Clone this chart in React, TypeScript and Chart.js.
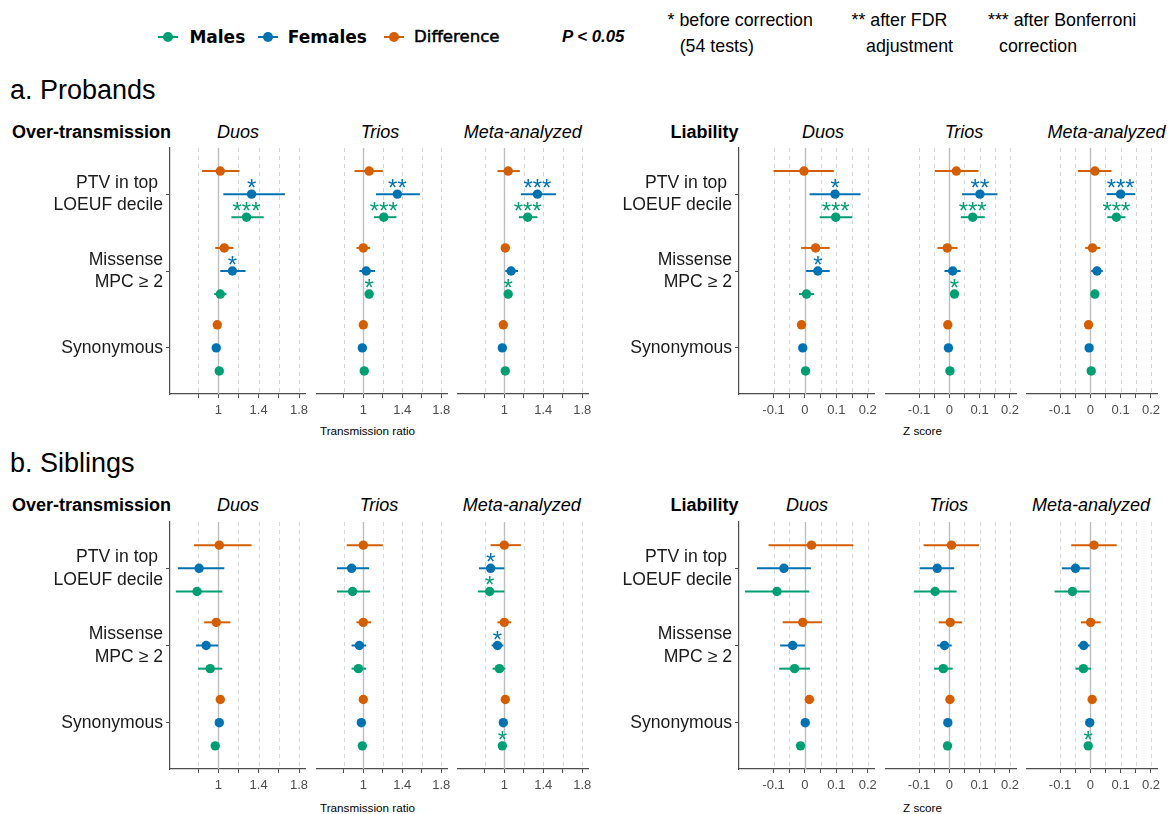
import React, { useEffect, useRef } from 'react';
import { Chart, registerables } from 'chart.js';
Chart.register(...registerables);

type Row = [number, number, number];

// ---------- categories / series ----------
const categoryLabels: (string | string[])[] = [['PTV in top ', 'LOEUF decile'], ['Missense', 'MPC \u2265 2'], 'Synonymous'];
const categoryPos = [3, 2, 1];
const seriesNames = ['Difference', 'Females', 'Males'];
const seriesOffset: Record<string, number> = { Males: -0.3, Females: 0, Difference: 0.3 };
const seriesColors: Record<string, string> = { Males: '#009E73', Females: '#0072B2', Difference: '#D55E00' };

// ---------- axis ticks ----------
const trTicks = [0.8, 1, 1.2, 1.4, 1.6, 1.8];
const trLabels = [1, 1.4, 1.8];
const trRange = [0.522, 1.859];
const zTicks = [-0.1, -0.05, 0, 0.05, 0.1, 0.15, 0.2];
const zLabels = [-0.1, 0, 0.1, 0.2];
const zRange = [-0.21, 0.22];

// ---------- a. Probands : transmission ratio [est, lo, hi] for PTV, Missense, Synonymous ----------
const aTR_Duos_M: Row[] = [[1.28, 1.13, 1.45], [1.02, 0.96, 1.08], [1.01, 0.99, 1.03]];
const aTR_Duos_F: Row[] = [[1.33, 1.05, 1.66], [1.14, 1.02, 1.27], [0.98, 0.96, 1.0]];
const aTR_Duos_D: Row[] = [[1.02, 0.84, 1.21], [1.06, 0.97, 1.15], [0.99, 0.97, 1.01]];
const aTR_Duos_starsM = ['***', '', ''];
const aTR_Duos_starsF = ['*', '*', ''];

const aTR_Trios_M: Row[] = [[1.21, 1.11, 1.34], [1.06, 1.02, 1.09], [1.01, 0.99, 1.03]];
const aTR_Trios_F: Row[] = [[1.35, 1.13, 1.58], [1.03, 0.96, 1.12], [0.99, 0.97, 1.01]];
const aTR_Trios_D: Row[] = [[1.06, 0.91, 1.2], [1.0, 0.93, 1.07], [1.0, 0.98, 1.02]];
const aTR_Trios_starsM = ['***', '*', ''];
const aTR_Trios_starsF = ['**', '', ''];

const aTR_Meta_M: Row[] = [[1.24, 1.15, 1.34], [1.04, 1.02, 1.06], [1.01, 1.0, 1.02]];
const aTR_Meta_F: Row[] = [[1.34, 1.17, 1.53], [1.07, 1.01, 1.14], [0.98, 0.97, 1.0]];
const aTR_Meta_D: Row[] = [[1.04, 0.93, 1.16], [1.01, 0.97, 1.06], [0.99, 0.98, 1.01]];
const aTR_Meta_starsM = ['***', '*', ''];
const aTR_Meta_starsF = ['***', '', ''];

// ---------- a. Probands : Z score ----------
const aZ_Duos_M: Row[] = [[0.098, 0.047, 0.151], [0.005, -0.019, 0.029], [0.002, -0.004, 0.008]];
const aZ_Duos_F: Row[] = [[0.096, 0.015, 0.177], [0.041, 0.004, 0.079], [-0.007, -0.013, -0.001]];
const aZ_Duos_D: Row[] = [[-0.003, -0.1, 0.092], [0.034, -0.012, 0.079], [-0.011, -0.017, -0.005]];
const aZ_Duos_starsM = ['***', '', ''];
const aZ_Duos_starsF = ['*', '*', ''];

const aZ_Trios_M: Row[] = [[0.077, 0.038, 0.117], [0.017, 0.003, 0.032], [0.002, -0.003, 0.007]];
const aZ_Trios_F: Row[] = [[0.101, 0.042, 0.159], [0.011, -0.016, 0.037], [-0.003, -0.008, 0.002]];
const aZ_Trios_D: Row[] = [[0.023, -0.048, 0.096], [-0.007, -0.039, 0.027], [-0.005, -0.01, 0.0]];
const aZ_Trios_starsM = ['***', '*', ''];
const aZ_Trios_starsF = ['**', '', ''];

const aZ_Meta_M: Row[] = [[0.086, 0.056, 0.116], [0.015, 0.006, 0.025], [0.003, -0.001, 0.007]];
const aZ_Meta_F: Row[] = [[0.1, 0.054, 0.148], [0.022, 0.003, 0.041], [-0.004, -0.008, 0.0]];
const aZ_Meta_D: Row[] = [[0.015, -0.041, 0.07], [0.007, -0.017, 0.033], [-0.006, -0.01, -0.002]];
const aZ_Meta_starsM = ['***', '', ''];
const aZ_Meta_starsF = ['***', '', ''];

// ---------- b. Siblings : transmission ratio ----------
const bTR_Duos_M: Row[] = [[0.79, 0.58, 1.04], [0.92, 0.8, 1.04], [0.97, 0.95, 0.99]];
const bTR_Duos_F: Row[] = [[0.81, 0.6, 1.06], [0.88, 0.78, 1.0], [1.01, 0.99, 1.03]];
const bTR_Duos_D: Row[] = [[1.01, 0.76, 1.33], [0.98, 0.86, 1.12], [1.02, 1.0, 1.04]];
const bTR_Duos_starsM = ['', '', ''];
const bTR_Duos_starsF = ['', '', ''];

const bTR_Trios_M: Row[] = [[0.89, 0.73, 1.07], [0.95, 0.88, 1.03], [0.99, 0.97, 1.01]];
const bTR_Trios_F: Row[] = [[0.88, 0.73, 1.06], [0.96, 0.88, 1.03], [0.98, 0.96, 1.0]];
const bTR_Trios_D: Row[] = [[1.0, 0.83, 1.2], [1.0, 0.93, 1.08], [1.0, 0.98, 1.02]];
const bTR_Trios_starsM = ['', '', ''];
const bTR_Trios_starsF = ['', '', ''];

const bTR_Meta_M: Row[] = [[0.85, 0.73, 1.0], [0.95, 0.88, 1.01], [0.98, 0.97, 0.99]];
const bTR_Meta_F: Row[] = [[0.86, 0.74, 1.0], [0.93, 0.87, 0.99], [0.99, 0.98, 1.0]];
const bTR_Meta_D: Row[] = [[1.0, 0.86, 1.17], [1.0, 0.93, 1.07], [1.01, 1.0, 1.02]];
const bTR_Meta_starsM = ['*', '', '*'];
const bTR_Meta_starsF = ['*', '*', ''];

// ---------- b. Siblings : Z score ----------
const bZ_Duos_M: Row[] = [[-0.089, -0.191, 0.014], [-0.033, -0.082, 0.016], [-0.014, -0.02, -0.008]];
const bZ_Duos_F: Row[] = [[-0.067, -0.153, 0.019], [-0.039, -0.079, 0.0], [0.001, -0.005, 0.007]];
const bZ_Duos_D: Row[] = [[0.021, -0.116, 0.154], [-0.007, -0.071, 0.054], [0.014, 0.003, 0.03]];
const bZ_Duos_starsM = ['', '', ''];
const bZ_Duos_starsF = ['', '', ''];

const bZ_Trios_M: Row[] = [[-0.047, -0.117, 0.024], [-0.02, -0.05, 0.011], [-0.006, -0.011, -0.001]];
const bZ_Trios_F: Row[] = [[-0.04, -0.098, 0.016], [-0.016, -0.04, 0.008], [-0.005, -0.01, 0.0]];
const bZ_Trios_D: Row[] = [[0.007, -0.085, 0.098], [0.003, -0.035, 0.042], [0.002, -0.003, 0.007]];
const bZ_Trios_starsM = ['', '', ''];
const bZ_Trios_starsF = ['', '', ''];

const bZ_Meta_M: Row[] = [[-0.059, -0.118, -0.002], [-0.023, -0.049, 0.002], [-0.007, -0.011, -0.003]];
const bZ_Meta_F: Row[] = [[-0.049, -0.094, -0.002], [-0.022, -0.041, -0.002], [-0.002, -0.006, 0.002]];
const bZ_Meta_D: Row[] = [[0.012, -0.063, 0.087], [0.001, -0.031, 0.034], [0.006, 0.002, 0.01]];
const bZ_Meta_starsM = ['', '', '*'];
const bZ_Meta_starsF = ['', '', ''];

// ---------- text ----------
const panelTitles = ['Duos', 'Trios', 'Meta-analyzed'];
const FONT = '"Liberation Sans", Arial, Helvetica, sans-serif';

const forestPlugin = {
  id: 'forest',
  beforeDatasetsDraw(chart: any, _args: any, opts: any) {
    const { ctx, chartArea: a, scales } = chart;
    const x = scales.x;
    ctx.save();
    (opts.grid as number[]).forEach((v) => {
      const px = Math.round(x.getPixelForValue(v)) + 0.5;
      ctx.beginPath();
      if (v === opts.ref) {
        ctx.setLineDash([]);
        ctx.strokeStyle = '#BDBDBD';
        ctx.lineWidth = 1.4;
      } else {
        ctx.setLineDash([4, 4]);
        ctx.strokeStyle = '#D6D6D6';
        ctx.lineWidth = 1;
      }
      ctx.moveTo(px, a.top);
      ctx.lineTo(px, a.bottom);
      ctx.stroke();
    });
    ctx.setLineDash([]);
    chart.data.datasets.forEach((ds: any, i: number) => {
      const meta = chart.getDatasetMeta(i);
      ds.data.forEach((d: any, j: number) => {
        const el = meta.data[j];
        ctx.strokeStyle = ds.borderColor;
        ctx.lineWidth = 2;
        ctx.beginPath();
        ctx.moveTo(x.getPixelForValue(d.lo), el.y);
        ctx.lineTo(x.getPixelForValue(d.hi), el.y);
        ctx.stroke();
      });
    });
    ctx.restore();
  },
  afterDatasetsDraw(chart: any) {
    const { ctx } = chart;
    ctx.save();
    ctx.font = `24px ${FONT}`;
    ctx.textAlign = 'center';
    ctx.textBaseline = 'alphabetic';
    chart.data.datasets.forEach((ds: any, i: number) => {
      const meta = chart.getDatasetMeta(i);
      ds.data.forEach((d: any, j: number) => {
        if (!d.star) return;
        const el = meta.data[j];
        ctx.fillStyle = ds.borderColor;
        ctx.fillText(d.star, el.x, el.y + 2);
      });
    });
    ctx.restore();
  },
};

type PanelProps = {
  plotLeft: number;
  plotTop: number;
  plotH: number;
  kind: 'tr' | 'z';
  yWidth: number;
  rows: Record<string, Row[]>;
  stars: Record<string, string[]>;
};

const PLOT_W = 135;
const PAD_TOP = 28;
const PAD_RIGHT = 12;
const X_AXIS_H = 26;

function ForestPanel({ plotLeft, plotTop, plotH, kind, yWidth, rows, stars }: PanelProps) {
  const ref = useRef<HTMLCanvasElement>(null);
  const w = yWidth + PLOT_W + PAD_RIGHT;
  const h = PAD_TOP + plotH + X_AXIS_H;
  useEffect(() => {
    const ticks = kind === 'tr' ? trTicks : zTicks;
    const labels = kind === 'tr' ? trLabels : zLabels;
    const range = kind === 'tr' ? trRange : zRange;
    const datasets = seriesNames.map((name) => ({
      label: name,
      data: rows[name].map((r, i) => ({
        x: r[0],
        y: categoryPos[i] + seriesOffset[name],
        lo: r[1],
        hi: r[2],
        star: stars[name] ? stars[name][i] : '',
      })),
      backgroundColor: seriesColors[name],
      borderColor: seriesColors[name],
      pointRadius: 4.7,
      pointHoverRadius: 4.7,
      pointBorderWidth: 0,
      showLine: false,
    }));
    const chart = new Chart(ref.current as HTMLCanvasElement, {
      type: 'scatter',
      data: { datasets } as any,
      plugins: [forestPlugin as any],
      options: {
        animation: false,
        responsive: false,
        devicePixelRatio: 1,
        events: [],
        layout: { padding: { top: PAD_TOP, right: PAD_RIGHT, left: 0, bottom: 0 } },
        plugins: {
          legend: { display: false },
          tooltip: { enabled: false },
          forest: { grid: ticks, ref: kind === 'tr' ? 1 : 0 },
        } as any,
        scales: {
          x: {
            type: 'linear',
            min: range[0],
            max: range[1],
            afterBuildTicks: (s: any) => {
              s.ticks = ticks.map((v) => ({ value: v }));
            },
            afterFit: (s: any) => {
              s.height = X_AXIS_H;
            },
            ticks: {
              autoSkip: false,
              maxRotation: 0,
              minRotation: 0,
              padding: 5,
              color: '#4D4D4D',
              font: { family: FONT, size: 13 },
              callback: (v: any) => (labels.includes(v) ? String(v) : ''),
            },
            grid: { drawOnChartArea: false, drawTicks: true, tickLength: 4, tickColor: '#4D4D4D', tickWidth: 1 },
            border: { display: true, color: '#4D4D4D', width: 1.2 },
          },
          y: {
            type: 'linear',
            min: 0.4,
            max: 3.6,
            display: yWidth > 0,
            afterBuildTicks: (s: any) => {
              s.ticks = [1, 2, 3].map((v) => ({ value: v }));
            },
            afterFit: (s: any) => {
              s.width = yWidth;
            },
            ticks: {
              autoSkip: false,
              padding: 3,
              color: '#1A1A1A',
              font: { family: FONT, size: 17.6, lineHeight: 1.29 },
              callback: (v: any) => categoryLabels[categoryPos.indexOf(v)] as any,
            },
            grid: { drawOnChartArea: false, drawTicks: true, tickLength: 4, tickColor: '#4D4D4D', tickWidth: 1 },
            border: { display: true, color: '#4D4D4D', width: 1.2 },
          },
        },
      } as any,
    });
    return () => chart.destroy();
  }, []);
  return (
    <canvas
      ref={ref}
      width={w}
      height={h}
      style={{ position: 'absolute', left: plotLeft - yWidth, top: plotTop - PAD_TOP, width: w, height: h }}
    />
  );
}

function T({ x, y, align = 'left', style, children }: any) {
  const tx = align === 'center' ? '-50%' : align === 'right' ? '-100%' : '0';
  return (
    <div
      style={{
        position: 'absolute',
        left: x,
        top: y,
        transform: `translate(${tx}, -50%)`,
        whiteSpace: 'pre',
        lineHeight: 1,
        fontFamily: FONT,
        color: '#000',
        ...style,
      }}
    >
      {children}
    </div>
  );
}

function LegendKey({ cx, cy, color }: { cx: number; cy: number; color: string }) {
  return (
    <>
      <div style={{ position: 'absolute', left: cx - 10, top: cy - 1, width: 20, height: 2.2, background: color }} />
      <div
        style={{ position: 'absolute', left: cx - 5, top: cy - 4.9, width: 10, height: 10, borderRadius: '50%', background: color }}
      />
    </>
  );
}

export default function App() {
  useEffect(() => {
    document.body.style.margin = '0';
    document.body.style.overflow = 'hidden';
  }, []);

  const rowsGeom = [
    { plotTop: 148, plotH: 246, title: 131.7, head: 90, axisTitle: 431, titleX: [238, 380, 522.7, 823, 964, 1106.5] },
    { plotTop: 522, plotH: 247, title: 505, head: 463, axisTitle: 808, titleX: [238, 379, 521.7, 807, 948.7, 1091] },
  ];
  const trLefts = [170, 312, 453];
  const zLefts = [739, 881, 1022];

  const panelData = [
    [
      { kind: 'tr', rows: { Males: aTR_Duos_M, Females: aTR_Duos_F, Difference: aTR_Duos_D }, stars: { Males: aTR_Duos_starsM, Females: aTR_Duos_starsF } },
      { kind: 'tr', rows: { Males: aTR_Trios_M, Females: aTR_Trios_F, Difference: aTR_Trios_D }, stars: { Males: aTR_Trios_starsM, Females: aTR_Trios_starsF } },
      { kind: 'tr', rows: { Males: aTR_Meta_M, Females: aTR_Meta_F, Difference: aTR_Meta_D }, stars: { Males: aTR_Meta_starsM, Females: aTR_Meta_starsF } },
      { kind: 'z', rows: { Males: aZ_Duos_M, Females: aZ_Duos_F, Difference: aZ_Duos_D }, stars: { Males: aZ_Duos_starsM, Females: aZ_Duos_starsF } },
      { kind: 'z', rows: { Males: aZ_Trios_M, Females: aZ_Trios_F, Difference: aZ_Trios_D }, stars: { Males: aZ_Trios_starsM, Females: aZ_Trios_starsF } },
      { kind: 'z', rows: { Males: aZ_Meta_M, Females: aZ_Meta_F, Difference: aZ_Meta_D }, stars: { Males: aZ_Meta_starsM, Females: aZ_Meta_starsF } },
    ],
    [
      { kind: 'tr', rows: { Males: bTR_Duos_M, Females: bTR_Duos_F, Difference: bTR_Duos_D }, stars: { Males: bTR_Duos_starsM, Females: bTR_Duos_starsF } },
      { kind: 'tr', rows: { Males: bTR_Trios_M, Females: bTR_Trios_F, Difference: bTR_Trios_D }, stars: { Males: bTR_Trios_starsM, Females: bTR_Trios_starsF } },
      { kind: 'tr', rows: { Males: bTR_Meta_M, Females: bTR_Meta_F, Difference: bTR_Meta_D }, stars: { Males: bTR_Meta_starsM, Females: bTR_Meta_starsF } },
      { kind: 'z', rows: { Males: bZ_Duos_M, Females: bZ_Duos_F, Difference: bZ_Duos_D }, stars: { Males: bZ_Duos_starsM, Females: bZ_Duos_starsF } },
      { kind: 'z', rows: { Males: bZ_Trios_M, Females: bZ_Trios_F, Difference: bZ_Trios_D }, stars: { Males: bZ_Trios_starsM, Females: bZ_Trios_starsF } },
      { kind: 'z', rows: { Males: bZ_Meta_M, Females: bZ_Meta_F, Difference: bZ_Meta_D }, stars: { Males: bZ_Meta_starsM, Females: bZ_Meta_starsF } },
    ],
  ];

  const legendY = 36.5;
  return (
    <div style={{ position: 'absolute', left: 0, top: 0, width: 1173, height: 814, background: '#fff', overflow: 'hidden' }}>
      {/* legend */}
      <LegendKey cx={168.4} cy={legendY} color={seriesColors.Males} />
      <T x={189.4} y={legendY} style={{ fontFamily: '"DejaVu Sans", sans-serif', fontWeight: 700, fontSize: 17 }}>Males</T>
      <LegendKey cx={268} cy={legendY} color={seriesColors.Females} />
      <T x={287.8} y={legendY} style={{ fontFamily: '"DejaVu Sans", sans-serif', fontWeight: 700, fontSize: 17 }}>Females</T>
      <LegendKey cx={394.2} cy={legendY} color={seriesColors.Difference} />
      <T x={414} y={legendY} style={{ fontFamily: '"DejaVu Sans", sans-serif', fontWeight: 400, fontSize: 16.6, WebkitTextStroke: '0.5px #000' }}>Difference</T>
      <T x={562} y={legendY} style={{ fontWeight: 700, fontStyle: 'italic', fontSize: 16.8 }}>P &lt; 0.05</T>
      <T x={667.6} y={21} style={{ fontSize: 17.8 }}>* before correction</T>
      <T x={679.7} y={46.5} style={{ fontSize: 17.8 }}>(54 tests)</T>
      <T x={851.5} y={21} style={{ fontSize: 17.8 }}>** after FDR</T>
      <T x={866} y={46.5} style={{ fontSize: 17.8 }}>adjustment</T>
      <T x={988} y={21} style={{ fontSize: 17.8 }}>*** after Bonferroni</T>
      <T x={999} y={46.5} style={{ fontSize: 17.8 }}>correction</T>

      {rowsGeom.map((g, ri) => (
        <React.Fragment key={ri}>
          <T x={10} y={g.head} style={{ fontSize: 27 }}>{ri === 0 ? 'a. Probands' : 'b. Siblings'}</T>
          <T x={171} y={g.title} align="right" style={{ fontSize: 18, fontWeight: 700 }}>Over-transmission</T>
          <T x={738.5} y={g.title} align="right" style={{ fontSize: 18, fontWeight: 700 }}>Liability</T>
          {g.titleX.map((tx, k) => (
            <T key={k} x={tx} y={g.title} align="center" style={{ fontSize: 18, fontStyle: 'italic' }}>
              {panelTitles[k % 3]}
            </T>
          ))}
          <T x={367.5} y={g.axisTitle} align="center" style={{ fontSize: 11.7 }}>Transmission ratio</T>
          <T x={922.5} y={g.axisTitle} align="center" style={{ fontSize: 11.7 }}>Z score</T>
          {panelData[ri].map((p: any, k) => (
            <ForestPanel
              key={k}
              plotLeft={k < 3 ? trLefts[k] : zLefts[k - 3]}
              plotTop={g.plotTop}
              plotH={g.plotH}
              kind={p.kind}
              yWidth={k === 0 ? 170 : k === 3 ? 150 : 0}
              rows={p.rows}
              stars={p.stars}
            />
          ))}
        </React.Fragment>
      ))}
    </div>
  );
}
